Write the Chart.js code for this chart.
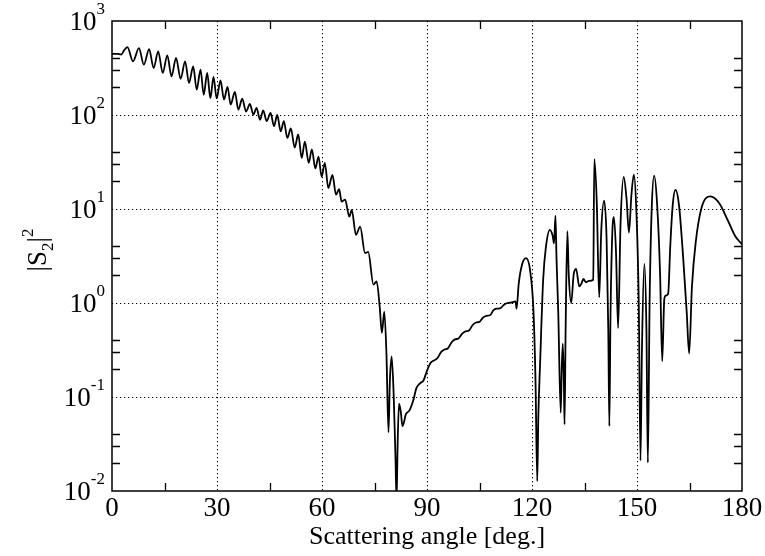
<!DOCTYPE html>
<html><head><meta charset="utf-8">
<script src="https://cdn.jsdelivr.net/npm/chart.js@4"></script>
<style>html,body{margin:0;padding:0;background:#fff}#wrap{width:765px;height:556px}</style>
</head><body><div id="wrap"><canvas id="c" width="765" height="556"></canvas></div>
<script>
// ---- data ----
const angles = [0,1.5,2.6,3.5,4.4,6.0,7.7,9.1,10.6,11.9,13.2,14.5,15.8,17.0,18.3,19.6,20.9,22.0,23.2,24.2,25.3,26.2,27.2,28.1,29.0,29.9,31.0,32.0,33.0,33.9,35.1,36.1,37.2,38.3,39.4,40.4,41.3,42.3,43.2,44.2,45.3,46.3,47.2,48.2,49.1,50.1,51.1,52.2,53.2,54.2,55.1,56.2,57.1,58.1,59.0,59.9,60.8,61.8,63.0,64.0,64.9,65.6,66.6,67.8,68.5,69.7,70.9,72.3,73.2,74.7,75.6,76.5,77.1,77.8,78.4,79.0,79.4,79.9,80.5,81.0,81.3,81.6,82.0,82.5,83.0,84.0,85.0,86.0,87.0,88.0,89.0,90.0,91.0,92.0,93.0,94.0,95.0,96.0,97.0,98.0,99.0,100.0,101.0,102.0,103.0,104.0,105.0,106.0,107.0,108.0,109.0,110.0,111.0,112.0,113.0,114.0,115.3,115.6,116.2,117.2,118.3,119.4,120.4,121.0,121.5,121.8,122.3,123.2,124.0,125.1,125.9,126.3,126.7,127.0,127.5,128.2,128.5,128.8,129.1,129.3,129.6,130.1,130.5,131.2,131.9,132.6,133.5,134.1,134.7,135.4,136.3,137.5,137.8,138.5,139.2,139.8,140.6,141.3,141.8,142.1,142.4,142.9,143.4,144.0,144.6,145.3,146.2,147.0,147.7,148.4,149.1,149.8,150.5,151.0,151.4,152.1,152.7,153.1,153.6,154.2,154.9,155.7,156.6,157.2,157.8,158.2,158.9,159.5,160.2,161.0,162.0,163.2,164.2,164.9,165.7,166.8,168.5,170.9,173.5,176.0,178.0,180.0];
const s2 = [447,447,440,490,527,372,515,343,503,316,475,280,430,258,404,243,372,219,329,186,303,164,280,151,254,150,233,146,199,129,176,114,149,109,131,101,119,89,112,86,105,76,100,67,86,57,72,45,62,35,52,31,43,27,36,22,31,16.7,23,14.2,16.3,12,12.6,8.3,9.8,5.3,6.5,3.4,3.5,1.57,1.7,0.9,0.48,0.81,0.3,0.042,0.15,0.27,0.1,0.022,0.008,0.03,0.085,0.07,0.049,0.066,0.072,0.09,0.125,0.14,0.15,0.19,0.23,0.245,0.26,0.3,0.32,0.33,0.38,0.41,0.42,0.47,0.5,0.51,0.58,0.62,0.63,0.7,0.73,0.74,0.84,0.87,0.88,0.96,1.0,1.01,1.04,0.87,1.6,2.6,3.0,2.3,0.85,0.15,0.0127,0.06,0.22,1.8,4.0,6.0,5.2,4.3,8.5,3.0,0.8,0.068,0.2,0.37,0.15,0.051,0.5,5.8,2.0,1.0,2.0,2.3,1.5,1.6,1.8,1.66,1.72,1.77,34,12,1.15,6,12.3,5,0.5,0.049,0.6,5,8.2,3.5,0.54,7,21.9,13,5.6,14,23.2,10,1.0,0.021,0.3,2.6,0.5,0.02,1.0,10,22.6,12,2,0.24,1.1,1.2,1.25,4,11,16,11,3,0.8,0.29,1.5,4.5,10.5,13.6,11.5,7.5,5.2,4.2];
const xTickLabels = [0,30,60,90,120,150,180];
const xGridValues = [30,60,90,120,150];
const xMinorTicks = [15,45,75,105,135,165];
const yExponents = [-2,-1,0,1,2,3];
const yMinorFactors = [2,3,4];
const xTitle = 'Scattering angle [deg.]';

const FONT = '"Liberation Serif", "Times New Roman", serif';

const points = angles.map((a,i)=>({x:a, y:s2[i]}));

const decor = {
  id:'decor',
  beforeDatasetsDraw(chart){
    const {ctx, chartArea:a, scales:{x,y}} = chart;
    ctx.save();
    ctx.strokeStyle='#000'; ctx.lineWidth=1.1; ctx.setLineDash([1.2,2.8]);
    xGridValues.forEach(v=>{
      const px=Math.round(x.getPixelForValue(v))+0.5;
      ctx.beginPath(); ctx.moveTo(px,a.top); ctx.lineTo(px,a.bottom); ctx.stroke();
    });
    yExponents.slice(1,-1).forEach(e=>{
      const py=Math.round(y.getPixelForValue(Math.pow(10,e)))+0.5;
      ctx.beginPath(); ctx.moveTo(a.left,py); ctx.lineTo(a.right,py); ctx.stroke();
    });
    ctx.restore();
  },
  afterDatasetsDraw(chart){
    const {ctx, chartArea:a, scales:{x,y}} = chart;
    ctx.save();
    ctx.setLineDash([]);
    ctx.strokeStyle='#000'; ctx.lineWidth=1.5;
    ctx.strokeRect(a.left, a.top, a.right-a.left, a.bottom-a.top);
    ctx.lineWidth=1.3;
    const L=8;
    xMinorTicks.forEach(v=>{
      const px=Math.round(x.getPixelForValue(v))+0.5;
      ctx.beginPath(); ctx.moveTo(px,a.bottom); ctx.lineTo(px,a.bottom-L);
      ctx.moveTo(px,a.top); ctx.lineTo(px,a.top+L); ctx.stroke();
    });
    yExponents.slice(0,-1).forEach(e=>{
      yMinorFactors.forEach(f=>{
        const py=Math.round(y.getPixelForValue(f*Math.pow(10,e)))+0.5;
        ctx.beginPath(); ctx.moveTo(a.left,py); ctx.lineTo(a.left+L,py);
        ctx.moveTo(a.right,py); ctx.lineTo(a.right-L,py); ctx.stroke();
      });
    });
    // y tick labels 10^n
    ctx.fillStyle='#000';
    ctx.textBaseline='middle';
    ctx.textAlign='right';
    const rightEdge = a.left-7;
    yExponents.forEach(e=>{
      const py=y.getPixelForValue(Math.pow(10,e));
      const ex=String(e);
      ctx.font='17px '+FONT;
      const ew=ctx.measureText(ex).width;
      ctx.fillText(ex, rightEdge, py-11);
      ctx.font='27px '+FONT;
      ctx.fillText('10', rightEdge-ew, py+2);
    });
    // y axis title |S2|^2
    const cy=(a.top+a.bottom)/2 - 6;
    ctx.translate(46, cy);
    ctx.rotate(-Math.PI/2);
    ctx.textAlign='left'; ctx.textBaseline='alphabetic';
    const parts=[['|S',27,0],['2',17,7],['|',27,0],['2',17,-13]];
    let tw=0;
    parts.forEach(p=>{ctx.font=p[1]+'px '+FONT; tw+=ctx.measureText(p[0]).width;});
    let cx=-tw/2;
    parts.forEach(p=>{ctx.font=p[1]+'px '+FONT; ctx.fillText(p[0],cx,p[2]); cx+=ctx.measureText(p[0]).width;});
    ctx.restore();
  }
};

new Chart(document.getElementById('c'), {
  type:'line',
  data:{datasets:[{data:points, borderColor:'#000', borderWidth:1.8, pointRadius:0, fill:false, cubicInterpolationMode:'monotone'}]},
  options:{
    responsive:false, animation:false, devicePixelRatio:1,
    layout:{padding:{top:21,right:23,left:0,bottom:0}},
    plugins:{legend:{display:false}, tooltip:{enabled:false}},
    scales:{
      x:{type:'linear', min:0, max:180,
        grid:{display:false, drawTicks:false, tickLength:0}, border:{display:false},
        afterBuildTicks:(s)=>{s.ticks = xTickLabels.map(v=>({value:v}));},
        afterFit:(s)=>{s.height=65;},
        ticks:{color:'#000', font:{family:FONT, size:27}, padding:2, maxRotation:0, autoSkip:false},
        title:{display:true, text:xTitle, color:'#000', font:{family:FONT, size:26}, padding:{top:0,bottom:3}}
      },
      y:{type:'logarithmic', min:0.01, max:1000,
        grid:{display:false, drawTicks:false}, border:{display:false},
        afterBuildTicks:(s)=>{s.ticks = yExponents.map(e=>({value:Math.pow(10,e)}));},
        afterFit:(s)=>{s.width=112;},
        ticks:{display:false}
      }
    }
  },
  plugins:[decor]
});
</script></body></html>
